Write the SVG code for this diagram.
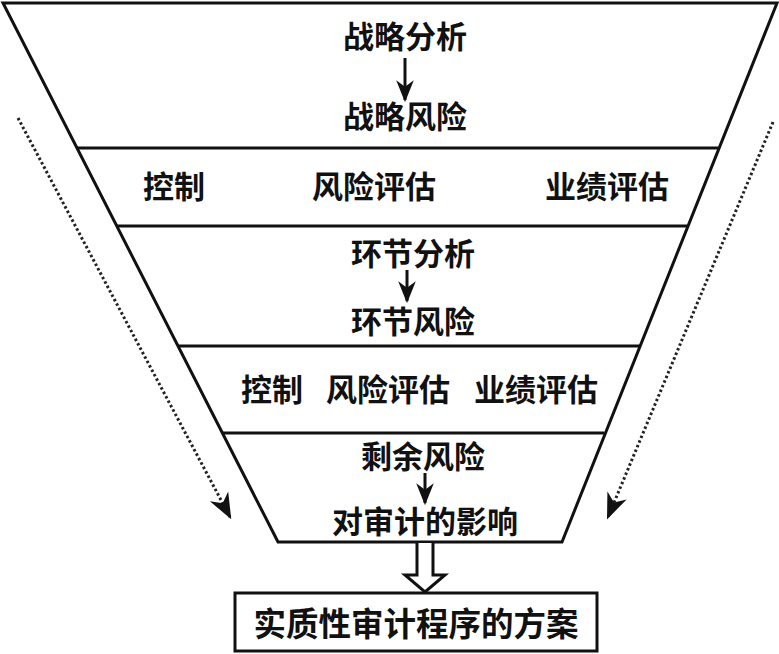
<svg xmlns="http://www.w3.org/2000/svg" width="779" height="654" viewBox="0 0 779 654">
<defs>
<style>
.t{font-family:"Noto Sans CJK SC","Noto Sans CJK JP",sans-serif;font-weight:bold;font-size:31px;fill:#111;text-anchor:middle}
.ln{stroke:#111;stroke-width:3;fill:none}
.dot{stroke:#222;stroke-width:3;stroke-dasharray:2.5 2.5;fill:none}
</style>
<marker id="ah2" viewBox="0 0 10 10" refX="9" refY="5" markerWidth="22" markerHeight="22" markerUnits="userSpaceOnUse" orient="auto">
<path d="M0,1 L10,5 L0,9 L3,5 z" fill="#111"/>
</marker>
<marker id="ah3" viewBox="0 0 10 10" refX="9" refY="5" markerWidth="26" markerHeight="26" markerUnits="userSpaceOnUse" orient="auto">
<path d="M0,1 L10,5 L0,9 L3,5 z" fill="#111"/>
</marker>
</defs>
<rect width="779" height="654" fill="#fff"/>
<g id="funnel">
<path class="ln" d="M3,3 L777,3 L562,542 L278,542 Z"/>
<line class="ln" x1="77" y1="148" x2="718" y2="148"/>
<line class="ln" x1="117" y1="226" x2="687" y2="226"/>
<line class="ln" x1="178" y1="346" x2="640" y2="346"/>
<line class="ln" x1="223" y1="433" x2="604" y2="433"/>
</g>
<g id="n1"><text class="t" x="405" y="48">战略分析</text></g>
<g id="n2"><text class="t" x="405" y="128">战略风险</text></g>
<g id="n3"><text class="t" x="174" y="198">控制</text></g>
<g id="n4"><text class="t" x="374" y="198">风险评估</text></g>
<g id="n5"><text class="t" x="607" y="198">业绩评估</text></g>
<g id="n6"><text class="t" x="413" y="265">环节分析</text></g>
<g id="n7"><text class="t" x="413" y="333">环节风险</text></g>
<g id="n8"><text class="t" x="272" y="401">控制</text></g>
<g id="n9"><text class="t" x="388" y="401">风险评估</text></g>
<g id="n10"><text class="t" x="536" y="401">业绩评估</text></g>
<g id="n11"><text class="t" x="423" y="468">剩余风险</text></g>
<g id="n12"><text class="t" x="425" y="533">对审计的影响</text></g>
<g id="n13">
<rect x="235" y="593" width="362" height="58" fill="#fff" stroke="#111" stroke-width="3"/>
<text class="t" x="416" y="636" style="font-size:32.5px">实质性审计程序的方案</text>
</g>
<g id="connectors">
<line x1="405" y1="58" x2="405" y2="100" stroke="#111" stroke-width="3" marker-end="url(#ah2)"/>
<line x1="407" y1="270" x2="407" y2="301" stroke="#111" stroke-width="3" marker-end="url(#ah2)"/>
<line x1="425" y1="473" x2="425" y2="503" stroke="#111" stroke-width="3" marker-end="url(#ah2)"/>
<line class="dot" x1="18" y1="118" x2="230" y2="517" marker-end="url(#ah3)"/>
<line class="dot" x1="773" y1="122" x2="608" y2="517" marker-end="url(#ah3)"/>
<path d="M417,543 L417,575 L405,575 L425,592 L445,575 L433,575 L433,543" fill="#fff" stroke="#111" stroke-width="3" stroke-linejoin="miter"/>
</g>
</svg>
